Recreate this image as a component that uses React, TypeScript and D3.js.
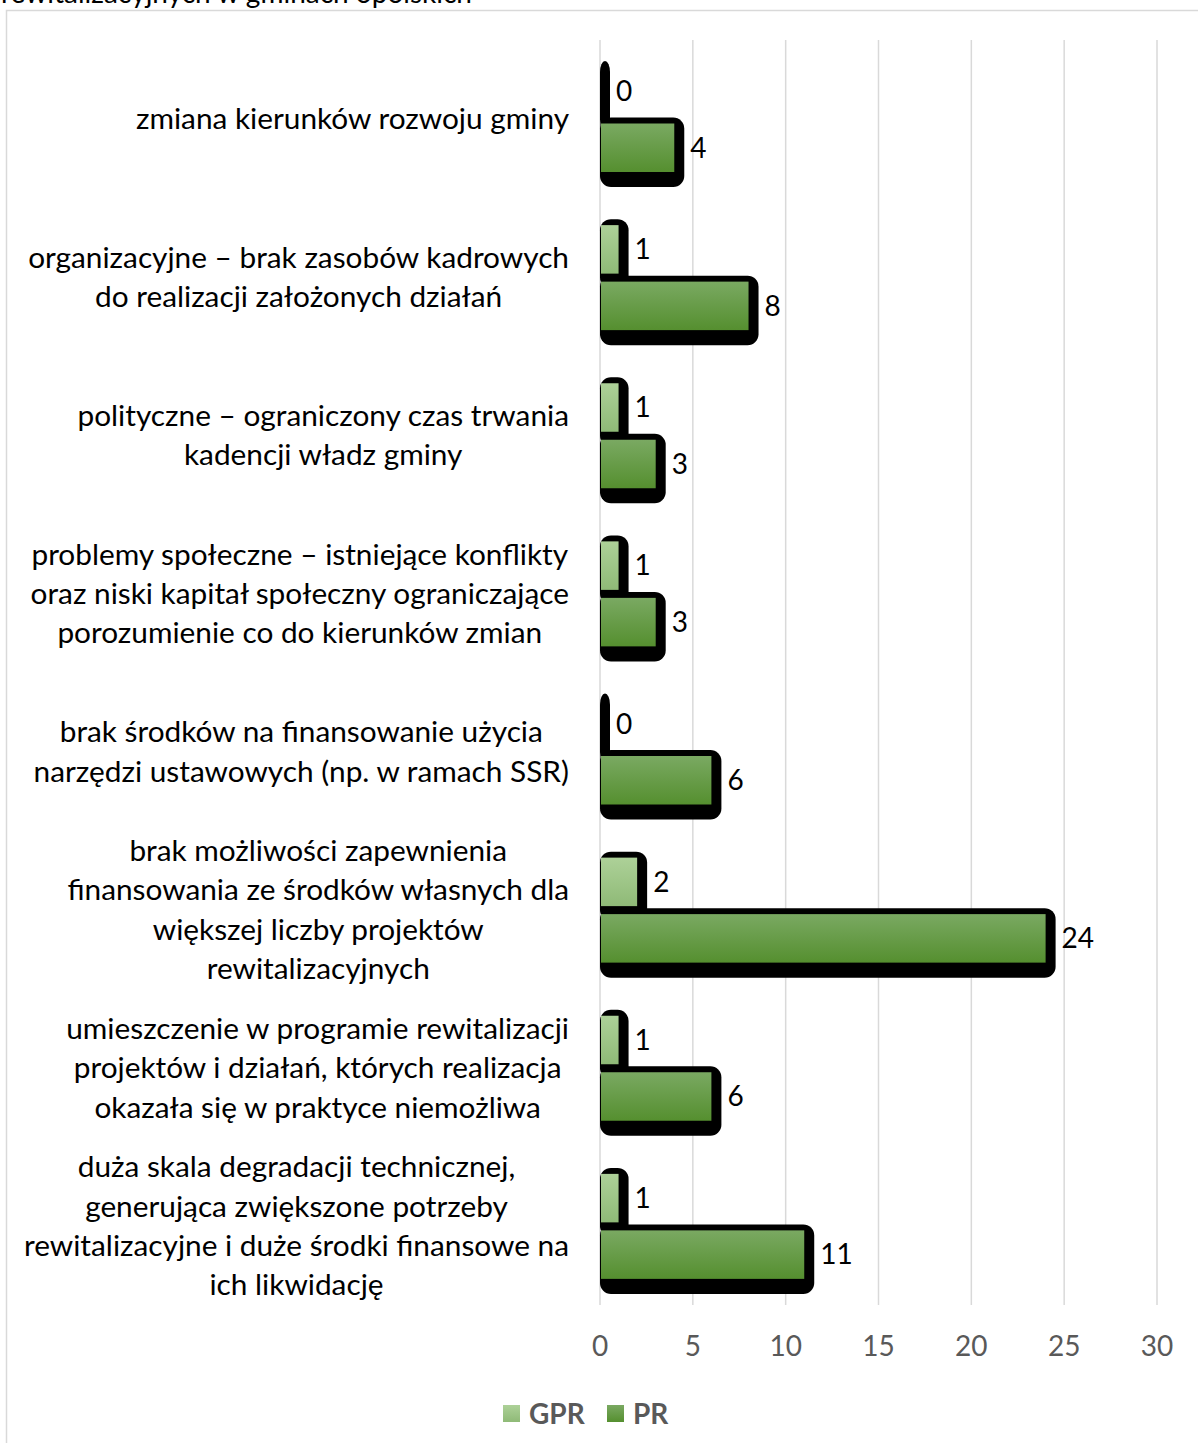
import React, { useEffect, useRef } from "react";
import * as d3 from "d3";

const categories: string[][] = [
  ["zmiana kierunków rozwoju gminy"],
  ["organizacyjne – brak zasobów kadrowych", "do realizacji założonych działań"],
  ["polityczne – ograniczony czas trwania", "kadencji władz gminy"],
  ["problemy społeczne – istniejące konflikty", "oraz niski kapitał społeczny ograniczające", "porozumienie co do kierunków zmian"],
  ["brak środków na finansowanie użycia", "narzędzi ustawowych (np. w ramach SSR)"],
  ["brak możliwości zapewnienia", "finansowania ze środków własnych dla", "większej liczby projektów", "rewitalizacyjnych"],
  ["umieszczenie w programie rewitalizacji", "projektów i działań, których realizacja", "okazała się w praktyce niemożliwa"],
  ["duża skala degradacji technicznej,", "generująca zwiększone potrzeby", "rewitalizacyjne i duże środki finansowe na", "ich likwidację"],
];
const gprValues = [0, 1, 1, 1, 0, 2, 1, 1];
const prValues = [4, 8, 3, 3, 6, 24, 6, 11];
const seriesNames = ["GPR", "PR"];
const xTicks = [0, 5, 10, 15, 20, 25, 30];
const titleText = "rewitalizacyjnych w gminach opolskich";

const FONT = "Lato, 'Open Sans', sans-serif";

export default function App() {
  const ref = useRef<SVGSVGElement>(null);
  useEffect(() => {
    const svg = d3.select(ref.current);
    svg.selectAll("*").remove();

    const defs = svg.append("defs");
    const g1 = defs.append("linearGradient").attr("id", "gGPR").attr("x1", 0).attr("y1", 0).attr("x2", 0).attr("y2", 1);
    g1.append("stop").attr("offset", "0%").attr("stop-color", "#add198");
    g1.append("stop").attr("offset", "100%").attr("stop-color", "#8fba77");
    const g2 = defs.append("linearGradient").attr("id", "gPR").attr("x1", 0).attr("y1", 0).attr("x2", 0).attr("y2", 1);
    g2.append("stop").attr("offset", "0%").attr("stop-color", "#7aa962");
    g2.append("stop").attr("offset", "100%").attr("stop-color", "#558f2f");

    // chart border
    svg.append("rect").attr("x", 6.5).attr("y", 10.5).attr("width", 1300).attr("height", 1500)
      .attr("fill", "#fff").attr("stroke", "#d9d9d9").attr("stroke-width", 1.5);

    // title (cut off at the top, as in the source)
    svg.append("text").attr("x", 1).attr("y", 3).attr("font-family", FONT).attr("font-size", 28)
      .attr("fill", "#000").text(titleText);

    const x = d3.scaleLinear().domain([0, 30]).range([600, 1157]);
    const y0 = d3.scaleBand<number>().domain(d3.range(categories.length)).range([40, 1305]);
    const y1 = d3.scaleBand<string>().domain(seriesNames).range([27, 132]).paddingInner(0.1416);

    // gridlines
    svg.append("g").selectAll("line").data(xTicks).join("line")
      .attr("x1", (d) => x(d)).attr("x2", (d) => x(d))
      .attr("y1", 40).attr("y2", 1305)
      .attr("stroke", "#d9d9d9").attr("stroke-width", 1.5);

    // tick labels
    svg.append("g").selectAll("text").data(xTicks).join("text")
      .attr("x", (d) => x(d)).attr("y", 1346).attr("dy", "0.35em")
      .attr("text-anchor", "middle").attr("font-family", FONT).attr("font-size", 28)
      .attr("fill", "#595959").text((d) => d);

    const series = [
      { name: "GPR", values: gprValues, fill: "url(#gGPR)" },
      { name: "PR", values: prValues, fill: "url(#gPR)" },
    ];

    const bars = svg.append("g");
    categories.forEach((_, i) => {
      series.forEach((s) => {
        const top = (y0(i) as number) + (y1(s.name) as number);
        const h = y1.bandwidth();
        const v = s.values[i];
        const xe = x(v);
        bars.append("rect")
          .attr("x", 600).attr("y", top - 6)
          .attr("width", xe + 10 - 600).attr("height", h + 21)
          .attr("rx", 11).attr("fill", "#000");
        bars.append("rect")
          .attr("x", 601).attr("y", top)
          .attr("width", Math.max(0, xe - 601)).attr("height", h)
          .attr("fill", s.fill);
        bars.append("text")
          .attr("x", xe + 16).attr("y", top + h / 2).attr("dy", "0.35em")
          .attr("font-family", FONT).attr("font-size", 28).attr("fill", "#000")
          .text(v);
      });
    });

    // category labels
    const labels = svg.append("g");
    const lineH = 39.3;
    categories.forEach((lines, i) => {
      const c = (y0(i) as number) + y0.bandwidth() / 2;
      const grp = labels.append("g");
      const texts = lines.map((ln, j) =>
        grp.append("text")
          .attr("y", c + (j - (lines.length - 1) / 2) * lineH)
          .attr("dy", "0.35em")
          .attr("text-anchor", "middle")
          .attr("font-family", FONT).attr("font-size", 29.8).attr("fill", "#000")
          .text(ln)
      );
      const maxW = d3.max(texts, (t) => (t.node() as SVGTextElement).getComputedTextLength()) || 0;
      texts.forEach((t) => t.attr("x", 569 - maxW / 2));
    });

    // legend
    const legend = svg.append("g");
    const lx = [503, 607];
    series.forEach((s, k) => {
      legend.append("rect").attr("x", lx[k]).attr("y", 1405).attr("width", 17).attr("height", 17).attr("fill", s.fill);
      legend.append("text").attr("x", lx[k] + 26).attr("y", 1414).attr("dy", "0.35em")
        .attr("font-family", FONT).attr("font-size", 28).attr("font-weight", "bold")
        .attr("fill", "#595959").text(s.name);
    });
  }, []);

  return (
    <svg ref={ref} width={1198} height={1443} style={{ position: "absolute", left: 0, top: 0, background: "#fff" }} />
  );
}
